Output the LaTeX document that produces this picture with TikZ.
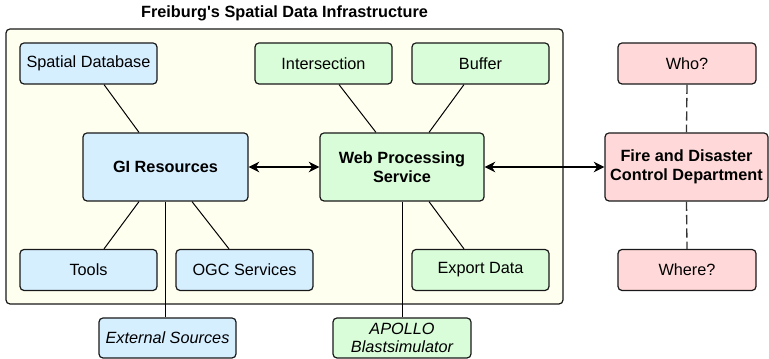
\documentclass[tikz,border=0pt]{standalone}
\usepackage{xcolor}
\usepackage{fontspec}
\setmainfont{Liberation Sans}
\usetikzlibrary{arrows.meta}

\definecolor{sdiyellow}{HTML}{FFFFF0}
\definecolor{giblue}{HTML}{D6EFFF}
\definecolor{wpsgreen}{HTML}{D9FCD9}
\definecolor{firepink}{HTML}{FFD9D9}

\tikzset{
  box/.style={draw=black!90,line width=0.9pt,rounded corners=3pt,font=\fontsize{12.2}{14}\selectfont,
    inner sep=0pt,align=center,minimum width=137*0.75pt,minimum height=41*0.75pt},
  bigbox/.style={box,font=\fontsize{12.2}{14}\selectfont\bfseries,minimum width=164*0.75pt,minimum height=68*0.75pt},
  link/.style={draw=black,line width=0.75pt},
  twoway/.style={link,line width=0.9pt,{Stealth[length=8pt,width=8pt,inset=2.5pt]}-{Stealth[length=8pt,width=8pt,inset=2.5pt]}},
  ask/.style={draw=black!80,line width=1pt,dash pattern=on 7pt off 3pt}
}

\begin{document}
\begin{tikzpicture}[x=0.75pt,y=-0.75pt]
\useasboundingbox (0,0) rectangle (769,359);

% infrastructure frame
\draw[draw=black!90,line width=0.9pt,fill=sdiyellow,rounded corners=3pt] (6,29) rectangle (563,304);
\node[font=\fontsize{12.2}{14}\selectfont\bfseries] (title) at (284.5,13) {Freiburg\textquotesingle s Spatial Data Infrastructure};

% GI resources
\node[box,fill=giblue] (sdb) at (88.5,63.5) {Spatial Database};
\node[bigbox,fill=giblue,minimum width=165*0.75pt] (gi) at (165.5,167) {GI Resources};
\node[box,fill=giblue] (tools) at (88.5,270) {Tools};
\node[box,fill=giblue] (ogc) at (244.5,270) {OGC Services};
\node[box,fill=giblue,font=\fontsize{12.2}{14}\selectfont\itshape,minimum height=40*0.75pt] (ext) at (167.5,338) {External Sources};

% processing
\node[box,fill=wpsgreen] (isect) at (323.5,63.5) {Intersection};
\node[box,fill=wpsgreen] (buffer) at (480.5,63.5) {Buffer};
\node[bigbox,fill=wpsgreen] (wps) at (402,167) {Web Processing\\Service};
\node[box,fill=wpsgreen] (export) at (480.5,270) {Export Data};
\node[box,fill=wpsgreen,font=\fontsize{12.2}{13}\selectfont\itshape,minimum width=138*0.75pt,minimum height=40*0.75pt] (apollo) at (402,338) {APOLLO\\Blastsimulator};

% fire department
\node[box,fill=firepink,minimum width=138*0.75pt] (who) at (687,63.5) {Who?};
\node[bigbox,fill=firepink,minimum width=163*0.75pt] (fire) at (686.5,167) {Fire and Disaster\\Control Department};
\node[box,fill=firepink,minimum width=138*0.75pt] (where) at (687,270) {Where?};

% connectors
\draw[link] ([xshift=15.5*0.75pt]sdb.south) -- ([xshift=-26.5*0.75pt]gi.north);
\draw[link] ([xshift=-26.5*0.75pt]gi.south) -- ([xshift=15.5*0.75pt]tools.north);
\draw[link] ([xshift=26.5*0.75pt]gi.south) -- ([xshift=-15.5*0.75pt]ogc.north);
\draw[link] (gi.south) -- (gi.south |- ext.north);
\draw[link] ([xshift=15.5*0.75pt]isect.south) -- ([xshift=-26*0.75pt]wps.north);
\draw[link] ([xshift=-16.5*0.75pt]buffer.south) -- ([xshift=27*0.75pt]wps.north);
\draw[link] ([xshift=27*0.75pt]wps.south) -- ([xshift=-16.5*0.75pt]export.north);
\draw[link] (wps.south) -- (apollo.north);
\draw[twoway] (gi.east) -- (wps.west);
\draw[twoway] (wps.east) -- (fire.west);
\draw[ask] (who.south) -- (fire.north);
\draw[ask] (fire.south) -- (where.north);
\end{tikzpicture}
\end{document}
